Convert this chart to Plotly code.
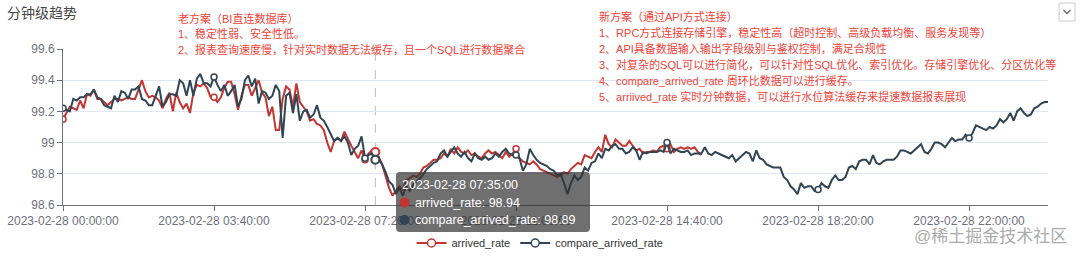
import plotly.graph_objects as go
import pandas as pd

# ---------------- data ----------------
times = pd.date_range("2023-02-28 00:00:00", periods=288, freq="5min").strftime("%Y-%m-%d %H:%M:%S").tolist()

tick_labels = ["2023-02-28 00:00:00", "2023-02-28 03:40:00", "2023-02-28 07:20:00",
               "2023-02-28 11:00:00", "2023-02-28 14:40:00", "2023-02-28 18:20:00",
               "2023-02-28 22:00:00"]
y_ticks = [98.6, 98.8, 99.0, 99.2, 99.4, 99.6]
y_tick_text = ["98.6", "98.8", "99", "99.2", "99.4", "99.6"]

arrived_rate = [
    99.15, 99.19, 99.23, 99.22, 99.21, 99.27, 99.22, 99.31, 99.30, 99.34,
    99.28, 99.28, 99.26, 99.24, 99.26, 99.28, 99.28, 99.27, 99.28, 99.29,
    99.28, 99.28, 99.34, 99.40, 99.33, 99.29, 99.30, 99.29, 99.27, 99.22,
    99.28, 99.32, 99.20, 99.32, 99.26, 99.22, 99.25, 99.19, 99.32, 99.37,
    99.36, 99.38, 99.35, 99.29, 99.29, 99.26, 99.29, 99.35, 99.39, 99.39,
    99.31, 99.21, 99.30, 99.37, 99.37, 99.30, 99.35, 99.40, 99.32, 99.29,
    99.17, 99.23, 99.08, 99.08, 99.28, 99.36, 99.34, 99.23, 99.38, 99.26,
    99.23, 99.20, 99.14, 99.15, 99.12, 99.11, 99.08, 99.00, 98.94, 99.01,
    99.03, 99.01, 99.07, 99.02, 98.98, 98.94, 98.90, 98.95, 98.89, 98.93,
    98.95, 98.94, 98.91, 98.86, 98.78, 98.71, 98.66, 98.69, 98.72, 98.70,
    98.76, 98.77, 98.79, 98.78, 98.80, 98.84, 98.85, 98.87, 98.89, 98.89,
    98.90, 98.93, 98.91, 98.96, 98.93, 98.97, 98.94, 98.93, 98.95, 98.92,
    98.93, 98.91, 98.90, 98.93, 98.95, 98.93, 98.94, 98.92, 98.90, 98.94,
    98.91, 98.93, 98.96, 98.90, 98.88, 98.87, 98.86, 98.88, 98.86, 98.83,
    98.82, 98.81, 98.80, 98.79, 98.78, 98.79, 98.81, 98.80, 98.83, 98.85,
    98.87, 98.86, 98.92, 98.91, 98.90, 98.94, 98.97, 98.94, 99.05, 98.99,
    98.97, 99.02, 99.00, 98.98, 98.98, 99.01, 98.98, 98.95, 98.96, 98.93,
    98.94, 98.94, 98.95, 98.94, 98.97, 98.98, 98.96, 98.99, 98.94, 98.96,
    98.97, 98.96, 98.97, 98.96, 98.97, 98.94, 98.92,
]

compare_arrived_rate = [
    99.22, 99.21, 99.20, 99.28, 99.27, 99.29, 99.29, 99.31, 99.31, 99.34,
    99.29, 99.28, 99.24, 99.23, 99.22, 99.30, 99.26, 99.33, 99.32, 99.28,
    99.34, 99.34, 99.36, 99.28, 99.27, 99.24, 99.24, 99.30, 99.36, 99.23,
    99.26, 99.31, 99.31, 99.30, 99.40, 99.38, 99.30, 99.40, 99.30, 99.41,
    99.44, 99.38, 99.38, 99.36, 99.42, 99.37, 99.33, 99.37, 99.30, 99.33,
    99.37, 99.23, 99.28, 99.40, 99.43, 99.36, 99.41, 99.25, 99.33, 99.32,
    99.28, 99.30, 99.37, 99.33, 99.03, 99.30, 99.32, 99.19, 99.31, 99.14,
    99.20, 99.21, 99.16, 99.18, 99.24, 99.16, 99.14, 99.10, 99.05, 99.01,
    99.03, 99.01, 99.04, 99.00, 98.92, 98.96, 98.98, 99.04, 98.90, 98.92,
    98.93, 98.89, 98.89, 98.86, 98.81, 98.75, 98.73, 98.67, 98.71, 98.66,
    98.72, 98.69, 98.73, 98.75, 98.77, 98.80, 98.83, 98.85, 98.87, 98.88,
    98.93, 98.95, 98.91, 98.94, 98.97, 98.93, 98.91, 98.94, 98.90, 98.88,
    98.93, 98.90, 98.89, 98.91, 98.89, 98.90, 98.93, 98.91, 98.94, 98.96,
    98.93, 98.92, 98.92, 98.90, 98.82, 98.86, 98.96, 98.92, 98.89, 98.87,
    98.86, 98.85, 98.83, 98.82, 98.79, 98.80, 98.74, 98.67, 98.74, 98.79,
    98.76, 98.78, 98.84, 98.82, 98.87, 98.88, 98.93, 98.90, 98.96, 98.95,
    98.98, 98.99, 98.96, 98.96, 98.93, 98.94, 98.97, 98.95, 98.89, 98.94,
    98.93, 98.94, 98.94, 98.94, 98.95, 98.94, 99.00, 98.93, 98.96, 98.95,
    98.94, 98.94, 98.95, 98.92, 98.93, 98.93, 98.93, 98.97, 98.93, 98.92,
    98.94, 98.93, 98.92, 98.91, 98.90, 98.92, 98.88, 98.90, 98.92, 98.94,
    98.93, 98.88, 98.95, 98.90, 98.89, 98.86, 98.85, 98.84, 98.84, 98.84,
    98.78, 98.76, 98.72, 98.70, 98.67, 98.74, 98.71, 98.72, 98.72, 98.69,
    98.70, 98.74, 98.72, 98.71, 98.76, 98.79, 98.76, 98.76, 98.78, 98.84,
    98.85, 98.83, 98.88, 98.89, 98.89, 98.86, 98.92, 98.87, 98.86, 98.88,
    98.89, 98.89, 98.89, 98.91, 98.95, 98.95, 98.94, 98.93, 98.95, 98.97,
    98.99, 98.94, 98.93, 98.96, 99.00, 99.00, 98.99, 98.97, 99.00, 99.03,
    99.01, 99.02, 99.02, 99.05, 99.03, 99.06, 99.11, 99.10, 99.09, 99.08,
    99.10, 99.09, 99.11, 99.15, 99.13, 99.15, 99.19, 99.14, 99.20, 99.22,
    99.19, 99.17, 99.18, 99.22, 99.23, 99.25, 99.26, 99.26,
]

symbol_index = [0, 44, 88, 132, 176, 220, 264]
hover_index = 91

old_plan = ["老方案（BI直连数据库）",
            "1、稳定性弱、安全性低。",
            "2、报表查询速度慢，针对实时数据无法缓存，且一个SQL进行数据聚合"]
new_plan = ["新方案（通过API方式连接）",
            "1、RPC方式连接存储引擎，稳定性高（超时控制、高级负载均衡、服务发现等）",
            "2、API具备数据输入输出字段级别与鉴权控制，满足合规性",
            "3、对复杂的SQL可以进行简化，可以针对性SQL优化、索引优化。存储引擎优化、分区优化等",
            "4、compare_arrived_rate 周环比数据可以进行缓存。",
            "5、arriived_rate 实时分钟数据，可以进行水位算法缓存来提速数据报表展现"]

# ---------------- style ----------------
RED = "#c23531"
DARK = "#2f4554"
AXIS = "#6E7079"
GRID = "#E0E6F1"
NOTE = "#f0433a"
FONT = "Liberation Sans, Noto Sans CJK SC, sans-serif"

W, H = 1080, 257
ML, MR, MT, MB = 63, 32, 49, 52
PW, PH = W - ML - MR, H - MT - MB


def px(x):
    return (x - ML) / PW


def py(y):
    return (H - MB - y) / PH


fig = go.Figure()

series = [("arrived_rate", arrived_rate, RED), ("compare_arrived_rate", compare_arrived_rate, DARK)]

for name, vals, col in series:
    xs = times[:len(vals)]
    fig.add_trace(go.Scatter(x=xs, y=vals, mode="lines", line=dict(color=col, width=2),
                             showlegend=False, hoverinfo="skip"))
    idx = [i for i in symbol_index if i < len(vals)]
    fig.add_trace(go.Scatter(x=[xs[i] for i in idx], y=[vals[i] for i in idx], mode="markers",
                             marker=dict(symbol="circle", size=6, color="white",
                                         line=dict(color=col, width=1.5)),
                             showlegend=False, hoverinfo="skip"))
    fig.add_trace(go.Scatter(x=[xs[hover_index]], y=[vals[hover_index]], mode="markers",
                             marker=dict(symbol="circle", size=8, color="white",
                                         line=dict(color=col, width=2)),
                             showlegend=False, hoverinfo="skip"))

for name, vals, col in series:
    fig.add_trace(go.Scatter(x=[None], y=[None], mode="lines+markers", name=name,
                             line=dict(color=col, width=2),
                             marker=dict(symbol="circle", size=8, color="white",
                                         line=dict(color=col, width=1.5))))

shapes = []
# axis pointer
shapes.append(dict(type="line", xref="x", yref="paper", x0=hover_index, x1=hover_index, y0=0, y1=1,
                   line=dict(color="#bbbbbb", width=1, dash="dash"), layer="below"))

# tooltip box (rounded)
x0, x1, y0, y1, r = 396, 590, 172, 232, 4
rx, ry = r / PW, r / PH
X0, X1, Y0, Y1 = px(x0), px(x1), py(y1), py(y0)
path = (f"M{X0+rx},{Y1} L{X1-rx},{Y1} Q{X1},{Y1} {X1},{Y1-ry} L{X1},{Y0+ry} Q{X1},{Y0} {X1-rx},{Y0} "
        f"L{X0+rx},{Y0} Q{X0},{Y0} {X0},{Y0+ry} L{X0},{Y1-ry} Q{X0},{Y1} {X0+rx},{Y1} Z")
shapes.append(dict(type="path", xref="paper", yref="paper", path=path,
                   fillcolor="rgba(50,50,50,0.7)", line=dict(width=0), layer="above"))
# tooltip dots
for yy, col in [(202.5, RED), (220, DARK)]:
    shapes.append(dict(type="circle", xref="paper", yref="paper",
                       x0=px(399.5), x1=px(409.5), y0=py(yy + 5), y1=py(yy - 5),
                       fillcolor=col, line=dict(width=0), layer="above"))
# dropdown icon
shapes.append(dict(type="rect", xref="paper", yref="paper", x0=px(1059), x1=px(1075), y0=py(21), y1=py(3),
                   line=dict(color="#cccccc", width=1), fillcolor="white", layer="above"))
shapes.append(dict(type="path", xref="paper", yref="paper",
                   path=f"M{px(1063.5)},{py(10)} L{px(1067)},{py(13.5)} L{px(1070.5)},{py(10)}",
                   line=dict(color="#666666", width=1.3), layer="above"))

ann = []
ann.append(dict(text="分钟级趋势", x=px(5), y=py(13), xref="paper", yref="paper", xanchor="left",
                yanchor="middle", showarrow=False, font=dict(size=14, color="#464646", family=FONT)))
for k, t in enumerate(old_plan):
    ann.append(dict(text=t, x=px(176), y=py(18 + 15.7 * k), xref="paper", yref="paper", xanchor="left",
                    yanchor="middle", showarrow=False, font=dict(size=11, color=NOTE, family=FONT)))
for k, t in enumerate(new_plan):
    ann.append(dict(text=t, x=px(597), y=py(16.5 + 15.9 * k), xref="paper", yref="paper", xanchor="left",
                    yanchor="middle", showarrow=False, font=dict(size=11, color=NOTE, family=FONT)))
# tooltip text
tip_lines = [(times[hover_index], 400, 185),
             (f"arrived_rate: {arrived_rate[hover_index]:.2f}", 413, 202.5),
             (f"compare_arrived_rate: {compare_arrived_rate[hover_index]:.2f}", 413, 220)]
for t, xx, yy in tip_lines:
    ann.append(dict(text=t, x=px(xx), y=py(yy), xref="paper", yref="paper", xanchor="left",
                    yanchor="middle", showarrow=False, font=dict(size=12.5, color="white", family=FONT)))
# watermark
ann.append(dict(text="@稀土掘金技术社区", x=px(1069), y=py(236), xref="paper", yref="paper", xanchor="right",
                yanchor="middle", showarrow=False, font=dict(size=17, color="#ababab", family=FONT)))

fig.update_layout(
    width=W, height=H, margin=dict(l=ML, r=MR, t=MT, b=MB, autoexpand=False),
    paper_bgcolor="white", plot_bgcolor="white",
    font=dict(family=FONT, size=12, color=AXIS),
    xaxis=dict(type="category", range=[0, len(times) - 1], showgrid=False, zeroline=False,
               showline=True, linecolor=AXIS, linewidth=1, ticks="outside", ticklen=5, tickcolor=AXIS,
               tickmode="array", tickvals=tick_labels, ticktext=tick_labels,
               tickfont=dict(size=12, color=AXIS)),
    yaxis=dict(range=[98.6, 99.6], showgrid=True, gridcolor=GRID, zeroline=False,
               showline=True, linecolor=AXIS, linewidth=1, ticks="outside", ticklen=5, tickcolor=AXIS,
               tickmode="array", tickvals=y_ticks, ticktext=y_tick_text,
               tickfont=dict(size=12, color=AXIS)),
    legend=dict(orientation="h", xref="container", yref="container", x=0.5, xanchor="center",
                y=(H - 243) / H, yanchor="middle", font=dict(size=11, color="#333333"),
                bgcolor="rgba(0,0,0,0)", itemwidth=30),
    shapes=shapes, annotations=ann, showlegend=True,
)

fig.write_html("out.html")
